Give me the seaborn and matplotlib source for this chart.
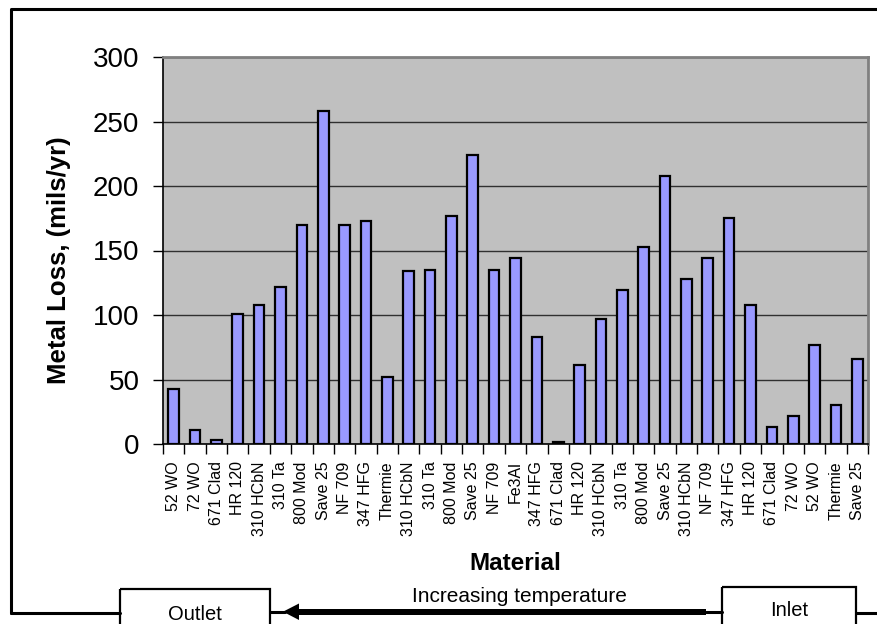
import numpy as np
import pandas as pd
import matplotlib
matplotlib.use("Agg")
import matplotlib.pyplot as plt
import seaborn as sns
from matplotlib.patches import Rectangle, Polygon
from matplotlib.lines import Line2D

materials = [
    "52 WO", "72 WO", "671 Clad", "HR 120", "310 HCbN", "310 Ta", "800 Mod",
    "Save 25", "NF 709", "347 HFG", "Thermie", "310 HCbN", "310 Ta", "800 Mod",
    "Save 25", "NF 709", "Fe3Al", "347 HFG", "671 Clad", "HR 120", "310 HCbN",
    "310 Ta", "800 Mod", "Save 25", "310 HCbN", "NF 709", "347 HFG", "HR 120",
    "671 Clad", "72 WO", "52 WO", "Thermie", "Save 25",
]
metal_loss = [
    43, 11, 3, 101, 108, 122, 170, 258, 170, 173, 52, 134, 135, 177,
    224, 135, 144, 83, 1.5, 61, 97, 119, 153, 208, 128, 144, 175, 108,
    13, 22, 77, 30, 66,
]
y_ticks = [0, 50, 100, 150, 200, 250, 300]

sns.set_theme(style="white")
plt.rcParams["font.family"] = ["Liberation Sans", "DejaVu Sans"]
plt.rcParams["text.color"] = "black"
plt.rcParams["xtick.color"] = "black"
plt.rcParams["ytick.color"] = "black"
plt.rcParams["xtick.labelcolor"] = "black"
plt.rcParams["ytick.labelcolor"] = "black"

W, H = 878, 624
fig = plt.figure(figsize=(W / 100, H / 100), dpi=100)

# overlay in pixel coordinates for the frame, flow boxes and arrow
ov = fig.add_axes([0, 0, 1, 1], zorder=0)
ov.set_xlim(0, W)
ov.set_ylim(H, 0)
ov.axis("off")

L, R, T, B = 163, 868, 57, 444
ax = fig.add_axes([L / W, 1 - B / H, (R - L) / W, (B - T) / H], zorder=2)

df = pd.DataFrame({"pos": np.arange(len(materials)), "loss": metal_loss})
sns.barplot(data=df, x="pos", y="loss", ax=ax, color="#9999FF", saturation=1,
            width=0.5, edgecolor="black", linewidth=1.6, zorder=3)

ax.set_facecolor("#C0C0C0")
ax.set_xlim(-0.5, len(materials) - 0.5)
ax.set_ylim(0, 300)
ax.set_yticks(y_ticks)
ax.set_yticklabels([str(v) for v in y_ticks], fontsize=20)
ax.yaxis.grid(True, color="#303030", linewidth=1.0, zorder=1)
ax.set_axisbelow(True)

ax.set_xticks(np.arange(len(materials)))
ax.set_xticklabels(materials, rotation=90, fontsize=11.5, va="top", ha="center")
ax.set_xticks(np.arange(len(materials) + 1) - 0.5, minor=True)
ax.tick_params(axis="x", which="major", length=0, pad=12.5)
ax.tick_params(axis="x", which="minor", length=7, width=1, color="black",
               direction="out", bottom=True)
ax.tick_params(axis="y", which="major", length=7, width=1, color="black",
               direction="out", left=True, pad=10)

for side in ("top", "right"):
    ax.spines[side].set_color("#808080")
    ax.spines[side].set_linewidth(2)
for side in ("left", "bottom"):
    ax.spines[side].set_color("black")
    ax.spines[side].set_linewidth(1.2)

ax.set_xlabel("")
ax.set_ylabel("")
fig.text(59 / W, 1 - 260 / H, "Metal Loss, (mils/yr)", rotation=90,
         fontsize=18.5, fontweight="bold", ha="center", va="center")
fig.text(515 / W, 1 - 564 / H, "Material", fontsize=17.5, fontweight="bold",
         ha="center", va="center")

# outer frame
lw = 2.2
ov.add_line(Line2D([11.5, 11.5, 878], [613, 8.5, 8.5], color="black", lw=lw))
ov.add_line(Line2D([11.5, 120], [613, 613], color="black", lw=lw))
ov.add_line(Line2D([270, 285], [612, 612], color="black", lw=lw))
ov.add_line(Line2D([706, 722], [612, 612], color="black", lw=lw))
ov.add_line(Line2D([856, 878], [613, 613], color="black", lw=lw))

# flow boxes
ov.add_patch(Rectangle((120, 589), 150, 40, fill=False, edgecolor="black",
                       lw=1.6, clip_on=False))
ov.add_patch(Rectangle((722, 587), 134, 42, fill=False, edgecolor="black",
                       lw=1.6, clip_on=False))
ov.text(195, 615, "Outlet", fontsize=14.5, ha="center", va="center")
ov.text(789, 610, "Inlet", fontsize=14.5, ha="center", va="center")

# temperature direction arrow
ov.add_patch(Rectangle((297, 608.5), 409, 6.5, color="black", lw=0))
ov.add_patch(Polygon([[283, 611.7], [299, 603.5], [299, 620]], closed=True,
                     color="black", lw=0))
ov.text(519, 597, "Increasing temperature", fontsize=15, ha="center",
        va="center")

fig.savefig("out.png", dpi=100)
